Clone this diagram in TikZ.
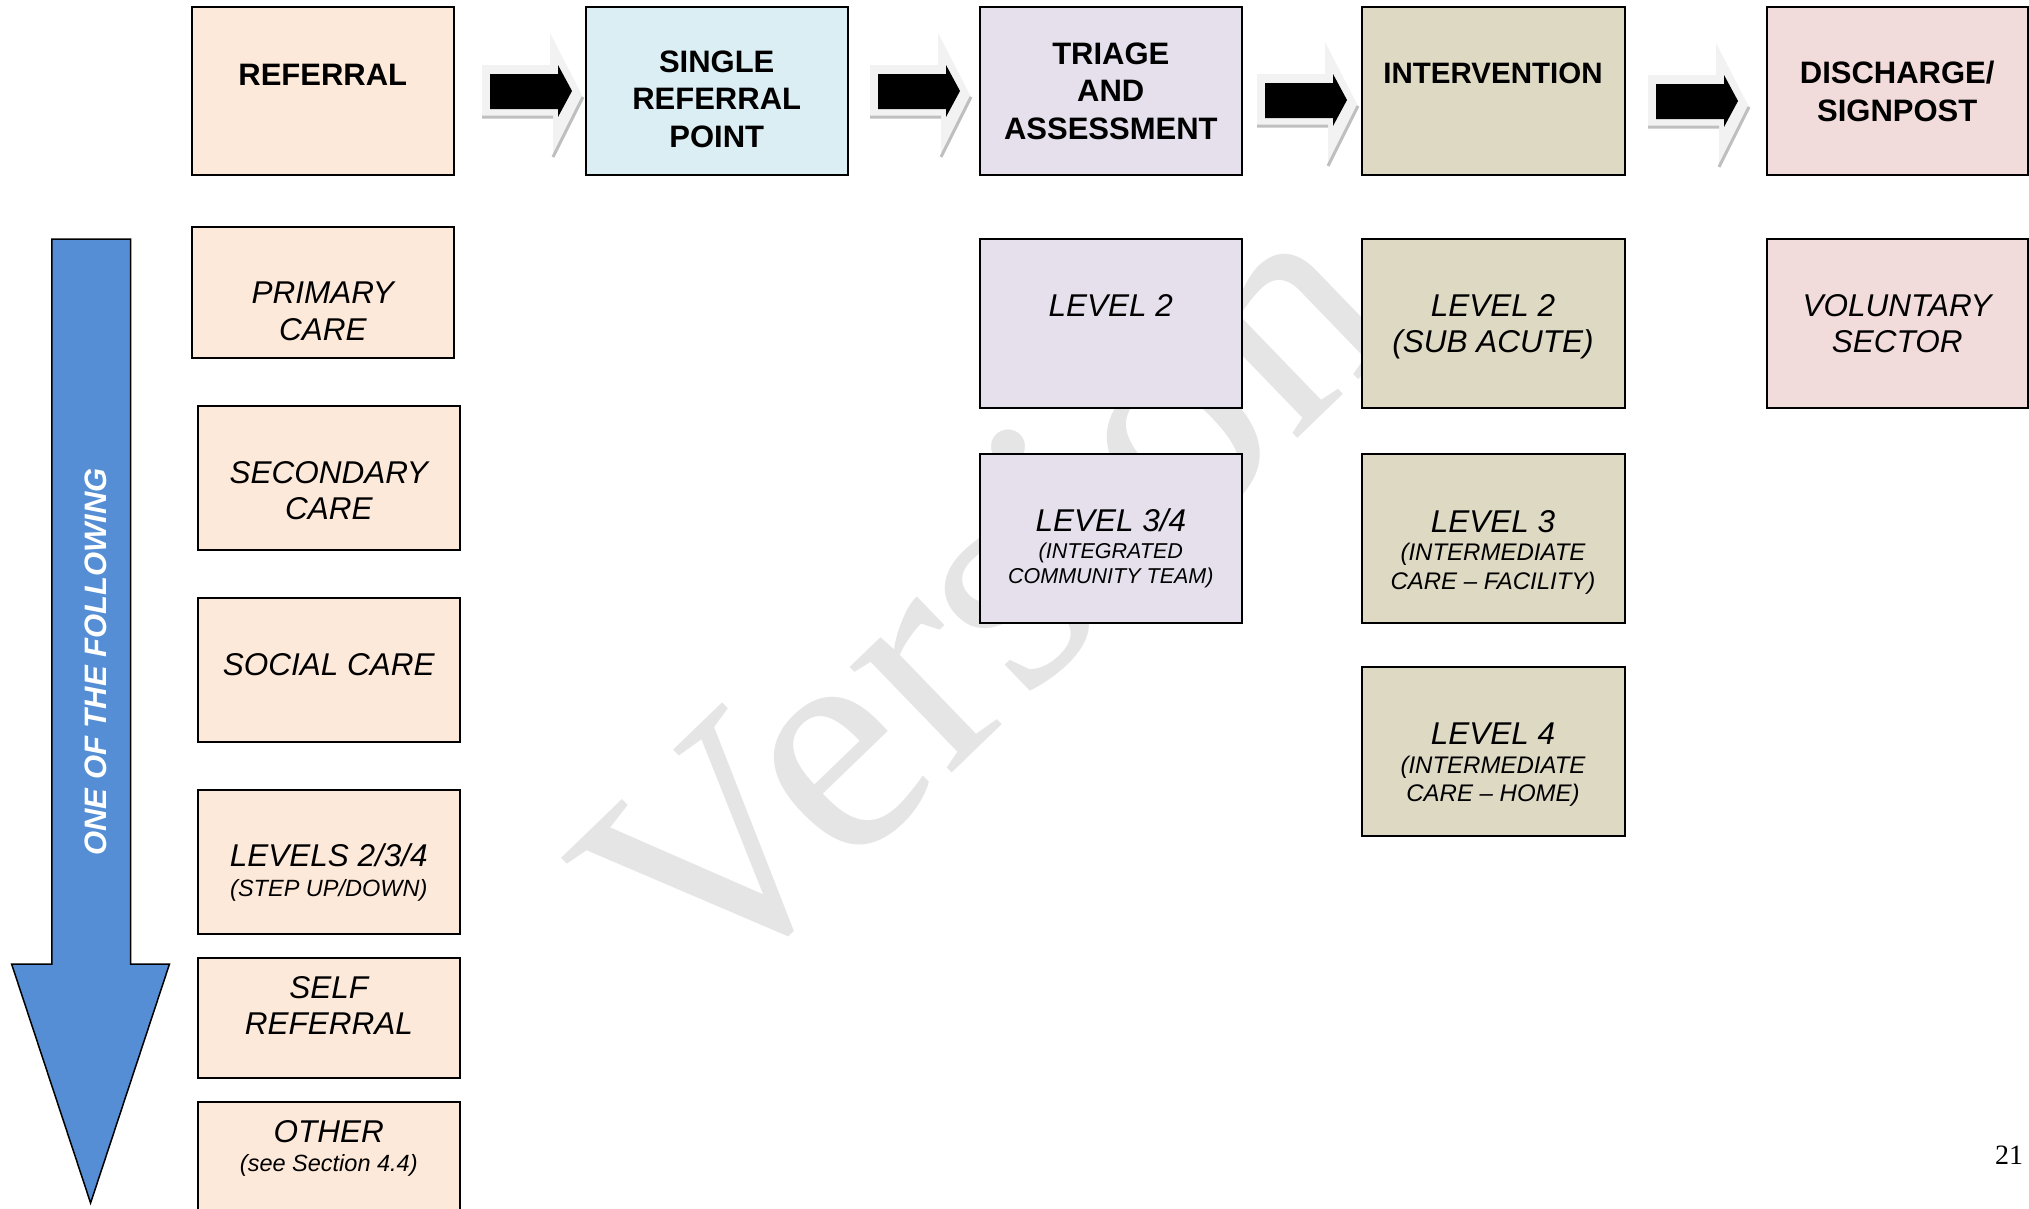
\documentclass[tikz,border=0pt]{standalone}
\usepackage{fontspec}
\setmainfont{Liberation Sans}
\newfontfamily\serifwm{Liberation Serif}
\usetikzlibrary{calc}
\definecolor{peach}{HTML}{FDE9D9}
\definecolor{lblue}{HTML}{DBEEF3}
\definecolor{lav}{HTML}{E5E0EC}
\definecolor{khaki}{HTML}{DDD9C3}
\definecolor{pinkish}{HTML}{F2DCDB}
\definecolor{arrowblue}{HTML}{558ED5}
\definecolor{arrowlight}{HTML}{F2F2F2}
\definecolor{arrowshade}{HTML}{BFBFBF}
\definecolor{wmgray}{HTML}{E5E5E5}
\begin{document}
\begin{tikzpicture}[x=1pt,y=-1pt,
  box/.style={draw=black, line width=2pt, anchor=north west, inner sep=0pt, outer sep=0pt},
  hd/.style={anchor=base, inner sep=0pt, font=\fontsize{31}{37}\selectfont\bfseries},
  it/.style={anchor=base, inner sep=0pt, font=\fontsize{31.5}{37}\selectfont\itshape},
  sm/.style={anchor=base, inner sep=0pt, font=\fontsize{21.5}{26}\selectfont\itshape},
  smi/.style={anchor=base, inner sep=0pt, font=\fontsize{24}{28}\selectfont\itshape},
  smb/.style={anchor=base, inner sep=0pt, font=\fontsize{23.5}{28}\selectfont\itshape},
  blockarrow/.pic={
    \fill[arrowlight] (0,-9) -- (68,-9) -- (68,-41) -- (101,23) -- (71,83) -- (71,43) -- (0,43) -- cycle;
    \draw[arrowshade, line width=3pt] (0,43) -- (71,43) (71,83) -- (101,23);
    \fill[black] (8,0) -- (76,0) -- (76,-9) -- (90,17) -- (76,43) -- (76,35) -- (8,35) -- cycle;
  }]
\useasboundingbox (0,0) rectangle (2029,1208);
\fill[white] (0,0) rectangle (2029,1208);

% watermark
\node[anchor=base west, inner sep=0pt, rotate=44, text=wmgray,
      font=\fontsize{320}{320}\selectfont\serifwm] (wm) at (704,1012) {Version};

% top row
\node[box, fill=peach, minimum width=262.3pt, minimum height=168.3pt] (ref) at (191.7,6.7) {};
\node[box, fill=lblue, minimum width=261.5pt, minimum height=168.3pt] (srp) at (586,6.7) {};
\node[box, fill=lav, minimum width=262.4pt, minimum height=168.3pt] (tri) at (979.6,6.7) {};
\node[box, fill=khaki, minimum width=263pt, minimum height=168.3pt] (int) at (1361.5,6.7) {};
\node[box, fill=pinkish, minimum width=261.5pt, minimum height=168.3pt] (dis) at (1766.5,6.7) {};

\node[hd] (tref) at (322.8,85) {REFERRAL};
\node[hd] (tsrp1) at (716.7,72) {SINGLE};
\node[hd] (tsrp2) at (716.7,109.5) {REFERRAL};
\node[hd] (tsrp3) at (716.7,147) {POINT};
\node[hd] (ttri1) at (1110.8,64) {TRIAGE};
\node[hd] (ttri2) at (1110.8,101.6) {AND};
\node[hd] (ttri3) at (1110.8,139) {ASSESSMENT};
\node[hd, font=\fontsize{29.5}{37}\selectfont\bfseries] (tint) at (1493,83.5) {INTERVENTION};
\node[hd] (tdis1) at (1897.2,83.5) {DISCHARGE/};
\node[hd] (tdis2) at (1897.2,121) {SIGNPOST};

% block arrows
\pic at ($(ref.north east)+(28,67.3)$) {blockarrow};
\pic at ($(srp.north east)+(22.5,67.3)$) {blockarrow};
\pic at ($(tri.north east)+(15,76.3)$) {blockarrow};
\pic at ($(int.north east)+(23.5,77.3)$) {blockarrow};

% blue arrow
\filldraw[fill=arrowblue, draw=black, line width=1.5pt]
  (51.8,239) -- (130.7,239) -- (130.7,964) -- (169.5,964) -- (90.6,1203)
  -- (11.6,964) -- (51.8,964) -- cycle;
\node[rotate=90, text=white, inner sep=0pt, font=\fontsize{31}{37}\selectfont\bfseries\itshape]
  (follow) at (96,662) {ONE OF THE FOLLOWING};

% referral column
\node[box, fill=peach, minimum width=262.3pt, minimum height=131pt] (pc) at (191.7,226.7) {};
\node[box, fill=peach, minimum width=262.3pt, minimum height=144pt] (sec) at (197.7,406) {};
\node[box, fill=peach, minimum width=262.3pt, minimum height=144.3pt] (soc) at (197.7,597.7) {};
\node[box, fill=peach, minimum width=262.3pt, minimum height=144pt] (lev) at (197.7,790) {};
\node[box, fill=peach, minimum width=262.3pt, minimum height=120pt] (self) at (197.7,958) {};
\node[box, fill=peach, minimum width=262.3pt, minimum height=130pt] (oth) at (197.7,1102) {};

\node[it] (tpc1) at (322.8,303) {PRIMARY};
\node[it] (tpc2) at (322.8,340) {CARE};
\node[it] (tsec1) at (328.8,483) {SECONDARY};
\node[it] (tsec2) at (328.8,519.5) {CARE};
\node[it] (tsoc) at (328.8,675) {SOCIAL CARE};
\node[it] (tlev1) at (328.8,866) {LEVELS 2/3/4};
\node[smb] (tlev2) at (328.8,896.4) {(STEP UP/DOWN)};
\node[it] (tself1) at (328.8,998) {SELF};
\node[it] (tself2) at (328.8,1034.5) {REFERRAL};
\node[it] (toth1) at (328.8,1142) {OTHER};
\node[smb] (toth2) at (328.8,1171) {(see Section 4.4)};

% triage column
\node[box, fill=lav, minimum width=262.4pt, minimum height=168.2pt] (t2) at (979.6,239.4) {};
\node[box, fill=lav, minimum width=262.4pt, minimum height=168.5pt] (t34) at (979.6,454.2) {};
\node[it] (tt2) at (1110.8,316) {LEVEL 2};
\node[it] (tt34a) at (1110.8,531) {LEVEL 3/4};
\node[sm] (tt34b) at (1110.8,558.7) {(INTEGRATED};
\node[sm] (tt34c) at (1110.8,583.7) {COMMUNITY TEAM)};

% intervention column
\node[box, fill=khaki, minimum width=263pt, minimum height=168.2pt] (i2) at (1361.5,239.4) {};
\node[box, fill=khaki, minimum width=263pt, minimum height=168.8pt] (i3) at (1361.5,454.2) {};
\node[box, fill=khaki, minimum width=263pt, minimum height=169pt] (i4) at (1361.5,667) {};
\node[it] (ti2a) at (1493,316) {LEVEL 2};
\node[it] (ti2b) at (1493,352.6) {(SUB ACUTE)};
\node[it] (ti3a) at (1493,532.5) {LEVEL 3};
\node[smi] (ti3b) at (1493,560.5) {(INTERMEDIATE};
\node[smi] (ti3c) at (1493,589.5) {CARE -- FACILITY)};
\node[it] (ti4a) at (1493,744.7) {LEVEL 4};
\node[smi] (ti4b) at (1493,773) {(INTERMEDIATE};
\node[smi] (ti4c) at (1493,801.5) {CARE -- HOME)};

% discharge column
\node[box, fill=pinkish, minimum width=261.5pt, minimum height=168.2pt] (vs) at (1766.5,239.4) {};
\node[it] (tvs1) at (1897.2,316) {VOLUNTARY};
\node[it] (tvs2) at (1897.2,352.6) {SECTOR};

% page number
\node[anchor=base, inner sep=0pt, font=\fontsize{28}{30}\selectfont\serifwm] (pg) at (2009,1164.5) {21};
\end{tikzpicture}
\end{document}
